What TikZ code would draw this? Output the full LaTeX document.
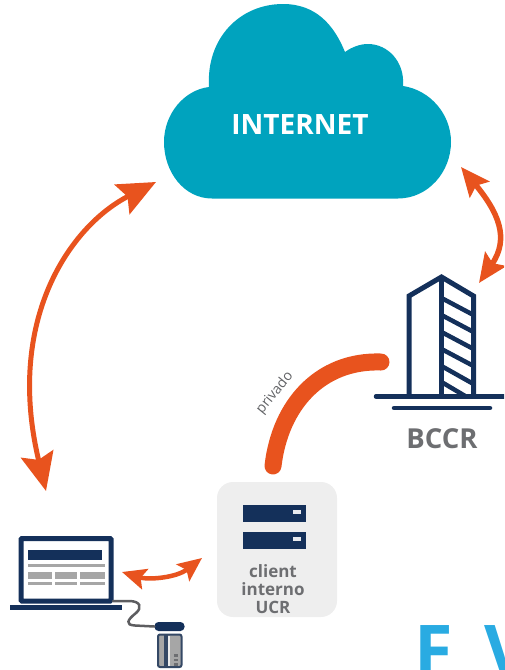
\documentclass[tikz,border=0pt]{standalone}
\usepackage{fontspec}
\setmainfont{Open Sans}
\usetikzlibrary{arrows.meta}
\definecolor{orangeA}{HTML}{E8531E}
\definecolor{tealA}{HTML}{00A3BE}
\definecolor{navyA}{HTML}{14305A}
\definecolor{grayT}{HTML}{6D6E71}
\definecolor{grayR}{HTML}{A6A6A6}
\definecolor{boxA}{HTML}{EEEEEE}
\definecolor{blueA}{HTML}{29ABE2}
\tikzset{
  bigarrow/.style={draw=orangeA,line width=5pt,{Stealth[inset=6pt,length=38pt,width=33pt,fill=orangeA]}-{Stealth[inset=6pt,length=38pt,width=33pt,fill=orangeA]}},
  midarrow/.style={draw=orangeA,line width=5.5pt,{Stealth[inset=5pt,length=29pt,width=25pt,fill=orangeA]}-{Stealth[inset=5pt,length=29pt,width=25pt,fill=orangeA]}},
  smallarrow/.style={draw=orangeA,line width=4.5pt,{Stealth[inset=4.5pt,length=24pt,width=21pt,fill=orangeA]}-{Stealth[inset=4.5pt,length=24pt,width=21pt,fill=orangeA]}},
  privlink/.style={draw=orangeA,line width=17pt,line cap=round},
  navyline/.style={draw=navyA,line width=5pt},
  label/.style={text=grayT,font=\bfseries,inner sep=0pt,align=center},
  bar/.style={fill=navyA,draw=none},
  row/.style={fill=grayR,draw=none},
}
\begin{document}
\begin{tikzpicture}[x=1pt,y=-1pt]
\useasboundingbox (0,0) rectangle (504,670);
\clip (0,0) rectangle (504,670);
% cloud
\fill[tealA] (212,198.5)
  .. controls (184,198.5) and (164,172) .. (164,142)
  .. controls (164,114) and (184,90) .. (209,87)
  .. controls (206,38) and (240,4) .. (283,4)
  .. controls (316,4) and (334,25) .. (345,52)
  .. controls (352,47) and (360,44) .. (368,44)
  .. controls (388,44) and (405,62) .. (403,86)
  .. controls (430,90) and (451,114) .. (451,142)
  .. controls (451,172) and (428,198.5) .. (398,198.5)
  -- cycle;
\node (cloud) at (300,124.5) [text=white,font=\bfseries\fontsize{28}{28}\selectfont,inner sep=0pt] {INTERNET};
% building
\node (bccr) at (442,439) [label,font=\bfseries\fontsize{27.5}{27.5}\selectfont] {BCCR};
\draw[navyline,line join=miter] (409,396.5) -- (409,296) -- (441.5,277) -- (473.5,296) -- (473.5,396.5);
\draw[navyline] (441.5,277) -- (441.5,396.5);
\foreach \a/\b in {298/315,315/332,332/349,349/366,366/384}
  \draw[draw=navyA,line width=4.5pt] (441.5,\a) -- (473.5,\b);
\draw[draw=navyA,line width=4.5pt] (441.5,382) -- (466,396.5);
\draw[navyline,line width=4.5pt,line cap=round] (376,396.5) -- (510,396.5);
\draw[navyline,line width=4.5pt,line cap=round] (394,408) -- (490,408);
% client box
\fill[boxA,rounded corners=16pt] (217,482) rectangle (337,617);
\node (clientbox) at (277,549.5) [minimum width=120pt,minimum height=135pt,inner sep=0pt] {};
\fill[bar] (243,505) rectangle (306,522);
\fill[bar] (243,532) rectangle (306,549);
\fill[white!90!navyA] (293,510) rectangle (301,514);
\fill[white!90!navyA] (293,537) rectangle (301,541);
\node (clienttxt) at (273,589) [label,font=\bfseries\fontsize{17}{18}\selectfont] {client\\interno\\UCR};
% laptop
\fill[white] (20,537) rectangle (113,602);
\draw[navyA,line width=5pt,rounded corners=1pt] (21,538.5) rectangle (111,601);
\node (laptop) at (66,570) [minimum width=94pt,minimum height=67pt,inner sep=0pt] {};
\fill[bar] (10,605) rectangle (121.5,610);
\fill[bar] (28,550) rectangle (102,560);
\fill[row] (28,563.5) rectangle (104.5,566.5);
\fill[row] (28,571.5) rectangle (52,579);
\fill[row] (54.5,571.5) rectangle (76.5,579);
\fill[row] (80,571.5) rectangle (104.5,579);
\fill[row] (28,581.5) rectangle (52,584.5);
\fill[row] (54.5,581.5) rectangle (76.5,584.5);
\fill[row] (80,581.5) rectangle (104.5,584.5);
% reader and card
\node (reader) at (169.5,626.5) [fill=navyA,rounded corners=4pt,minimum width=30pt,minimum height=9pt,inner sep=0pt] {};
\coordinate (cablestart) at (113,601);
\draw[draw=grayT!85!black,line width=2.5pt,line cap=round] (cablestart) -- (129,601)
  .. controls (141,601) and (142,608) .. (136,613)
  .. controls (127,620) and (125,625) .. (135,625.5) -- (reader.west);
\fill[grayR,draw=navyA!70!gray,line width=2pt,rounded corners=2pt] (158,634.5) rectangle (181.5,667);
\fill[navyA!70!gray] (164,634.5) rectangle (168,667);
\fill[white!85!gray] (168,635.5) rectangle (169.5,666);
\fill[grayT] (174,654) rectangle (178,656.5);
\fill[grayT] (174,658.5) rectangle (178,661);
\fill[grayT] (174,663) rectangle (178,665.5);
% partial letters
\node (letterf) at (414,675) [anchor=base west,text=blueA,font=\bfseries\fontsize{70}{70}\selectfont,inner sep=0pt] {F};
\node (letterv) at (484,675) [anchor=base west,text=blueA,font=\bfseries\fontsize{70}{70}\selectfont,inner sep=0pt] {V};
% connectors
\coordinate (inetL) at (156,182);
\coordinate (lapT) at (46,491);
\coordinate (inetR) at (461,167);
\coordinate (bankT) at (479,283);
\coordinate (lapR) at (122,572);
\coordinate (clientL) at (202,558);
\coordinate (bankL) at (381,362);
\coordinate (clientT) at (273,466);
\draw[bigarrow] (inetL) .. controls (70,226) and (5,320) .. (lapT);
\draw[midarrow] (inetR) .. controls (498,212) and (510,238) .. (bankT);
\draw[smallarrow] (lapR) .. controls (148,580) and (176,578) .. (clientL);
\draw[privlink] (bankL) .. controls (320,360) and (280,405) .. (clientT);
\node (priv) at (275,393) [rotate=51,text=grayT!90!black,font=\fontsize{14}{14}\selectfont,inner sep=0pt] {privado};
\end{tikzpicture}
\end{document}
